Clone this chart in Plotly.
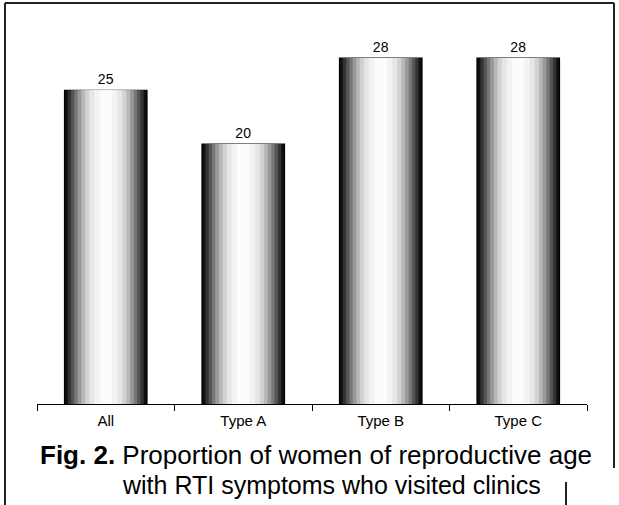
import plotly.graph_objects as go

categories = ["All", "Type A", "Type B", "Type C"]
values = [25, 20, 28, 28]
value_labels = ["25", "20", "28", "28"]

caption_bold = "Fig. 2."
caption_line1 = "Proportion of women of reproductive age"
caption_line2 = "with RTI symptoms who visited clinics"

W, H = 619, 505
FONT = "Liberation Sans, Arial, sans-serif"

# cylinder-like shading: concentric overlaid bars, edge (dark) -> centre (white)
bar_width = 0.6
shade_steps = [
    (1.00, "#111111"),
    (0.92, "#333333"),
    (0.84, "#555555"),
    (0.76, "#777777"),
    (0.68, "#999999"),
    (0.59, "#b8b8b8"),
    (0.50, "#d2d2d2"),
    (0.40, "#e6e6e6"),
    (0.28, "#f3f3f3"),
    (0.15, "#fcfcfc"),
]

# value axis (Excel-like, baseline below zero so bar tops sit where the original has them)
px_per_unit = 10.75
y_min = 28 - (404 - 58) / px_per_unit
y_max = 28 + (58 - 20) / px_per_unit

fig = go.Figure()
for i, (frac, col) in enumerate(shade_steps):
    first = i == 0
    fig.add_trace(go.Bar(
        x=categories,
        y=[v - y_min for v in values],
        base=y_min,
        width=bar_width * frac,
        marker=dict(color=col,
                    line=dict(color="#000000", width=1.2 if first else 0)),
        text=value_labels if first else None,
        textposition="outside" if first else "none",
        textfont=dict(family=FONT, size=14, color="#000000"),
        constraintext="none",
        cliponaxis=False,
        hoverinfo="skip",
        showlegend=False,
    ))

fig.update_layout(
    width=W, height=H,
    margin=dict(l=0, r=0, t=0, b=0),
    paper_bgcolor="white",
    plot_bgcolor="white",
    barmode="overlay",
    showlegend=False,
    xaxis=dict(
        domain=[37 / W, 587 / W],
        type="category",
        showline=True, linecolor="#000000", linewidth=1,
        ticks="outside", tickson="boundaries", ticklen=6,
        tickcolor="#000000", tickwidth=1,
        ticklabelstandoff=3,
        showgrid=False, zeroline=False,
        tickfont=dict(family=FONT, size=15, color="#000000"),
    ),
    yaxis=dict(
        domain=[(H - 404) / H, (H - 20) / H],
        range=[y_min, y_max],
        visible=False,
        showgrid=False, zeroline=False,
    ),
    font=dict(family=FONT, color="#000000"),
)

# caption
fig.add_annotation(
    xref="paper", yref="paper", x=38 / W, y=(H - 455) / H,
    xanchor="left", yanchor="middle", showarrow=False,
    text=f"<b>{caption_bold}</b> {caption_line1}",
    font=dict(family=FONT, size=26, color="#000000"),
)
fig.add_annotation(
    xref="paper", yref="paper", x=120 / W, y=(H - 485) / H,
    xanchor="left", yanchor="middle", showarrow=False,
    text=caption_line2,
    font=dict(family=FONT, size=25, color="#000000"),
)

# frame around the figure
border = dict(color="#222222", width=2)
fig.add_shape(type="line", xref="paper", yref="paper",
              x0=5 / W, x1=5 / W, y0=0, y1=(H - 3) / H, line=border)
fig.add_shape(type="line", xref="paper", yref="paper",
              x0=5 / W, x1=614 / W, y0=(H - 3) / H, y1=(H - 3) / H, line=border)
fig.add_shape(type="line", xref="paper", yref="paper",
              x0=614 / W, x1=614 / W, y0=(H - 468) / H, y1=(H - 3) / H, line=border)
fig.add_shape(type="line", xref="paper", yref="paper",
              x0=566 / W, x1=566 / W, y0=0, y1=(H - 482) / H, line=border)

fig.write_html("out.html")
